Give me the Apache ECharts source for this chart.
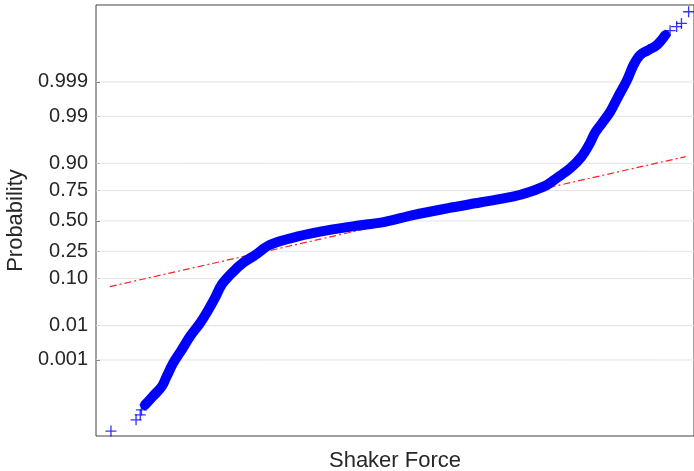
<!DOCTYPE html>
<html>
<head>
<meta charset="utf-8">
<script src="https://cdn.jsdelivr.net/npm/echarts@6/dist/echarts.min.js"></script>
<style>
  html, body { margin: 0; padding: 0; background: #fff; }
  #chart { width: 694px; height: 471px; }
</style>
</head>
<body>
<div id="chart"></div>
<script>
// normal probability plot: y values are normal quantiles of the plotting positions
const tickQuantiles = [-3.090, -2.326, -1.282, -0.674, 0, 0.674, 1.282, 2.326, 3.090];
const tickLabels = ["0.001", "0.01", "0.10", "0.25", "0.50", "0.75", "0.90", "0.99", "0.999"];

// dense part of the sample (drawn as a thick band of markers)
const bandForce = [-41.8, -40.5, -39.0, -38.2, -37.1, -35.7, -34.3, -32.6, -31.5, -30.1,
  -29.0, -27.3, -25.4, -23.4, -20.9, -16.4, -10.9, -5.4, -1.7, 3.0,
  8.7, 14.2, 19.7, 22.6, 25.4, 27.0, 29.3, 31.2, 32.6, 33.4,
  34.6, 36.0, 37.3, 38.8, 39.9, 41.0, 42.4, 43.8, 45.2];
const bandQuantile = [-4.09, -3.90, -3.68, -3.46, -3.16, -2.87, -2.57, -2.27, -2.04, -1.71,
  -1.42, -1.16, -0.93, -0.76, -0.53, -0.35, -0.20, -0.09, -0.02, 0.13,
  0.28, 0.41, 0.54, 0.65, 0.80, 0.95, 1.17, 1.43, 1.73, 1.95,
  2.17, 2.43, 2.76, 3.13, 3.47, 3.69, 3.80, 3.91, 4.13];

// sparse tails (individual markers)
const lowTailForce = [-47.5, -43.3, -42.6, -42.4, -41.8, -41.2];
const lowTailQuantile = [-4.67, -4.42, -4.31, -4.20, -4.09, -4.00];
const highTailForce = [42.4, 43.8, 45.2, 46.0, 47.1, 47.9, 49.1];
const highTailQuantile = [3.80, 3.91, 4.13, 4.23, 4.32, 4.39, 4.65];

// reference line through the quartiles
const refForce = [-47.7, 48.6];
const refQuantile = [-1.46, 1.43];

const xMin = -50, xMax = 50;
const zip = (a, b) => a.map((v, i) => [v, b[i]]);
const plusSymbol = "path://M4.4,0H5.6V4.4H10V5.6H5.6V10H4.4V5.6H0V4.4H4.4Z";
const axisColor = "#404040";
const textColor = "#262626";
const font = "Liberation Sans, Arial, Helvetica, sans-serif";

// horizontal grid lines at the probability ticks
const gridSeries = tickQuantiles.map(t => ({
  type: "line",
  z: 1,
  silent: true,
  showSymbol: false,
  data: [[xMin, t], [xMax, t]],
  lineStyle: { color: "#e3e3e3", width: 1 }
}));

const chart = echarts.init(document.getElementById("chart"));
chart.setOption({
  animation: false,
  backgroundColor: "#fff",
  grid: {
    left: 96, right: 0, top: 5, bottom: 35,
    outerBoundsMode: "none",
    containLabel: false,
    show: true, borderColor: axisColor, borderWidth: 1, backgroundColor: "transparent"
  },
  xAxis: {
    type: "value",
    min: xMin, max: xMax,
    name: "Shaker Force",
    nameLocation: "middle",
    nameGap: 14,
    nameTextStyle: { fontFamily: font, fontSize: 22, color: textColor },
    axisLine: { show: false, onZero: false },
    axisTick: { show: false },
    axisLabel: { show: false },
    splitLine: { show: false }
  },
  yAxis: {
    type: "value",
    min: -4.78, max: 4.8,
    name: "Probability",
    nameLocation: "middle",
    nameGap: 59,
    nameTextStyle: { fontFamily: font, fontSize: 22, color: textColor },
    axisLine: { show: false, onZero: false },
    axisTick: {
      show: true, inside: true, length: 4,
      customValues: tickQuantiles,
      lineStyle: { color: axisColor }
    },
    axisLabel: {
      customValues: tickQuantiles,
      margin: 8,
      fontFamily: font, fontSize: 20, color: textColor,
      formatter: v => {
        let best = 0;
        tickQuantiles.forEach((t, i) => {
          if (Math.abs(t - v) < Math.abs(tickQuantiles[best] - v)) best = i;
        });
        return tickLabels[best];
      }
    },
    splitLine: { show: false }
  },
  series: gridSeries.concat([
    {
      name: "reference",
      type: "line",
      z: 2,
      data: zip(refForce, refQuantile),
      showSymbol: false,
      silent: true,
      lineStyle: { color: "#ff2020", width: 1.2, type: [7, 3, 2, 3] }
    },
    {
      name: "band",
      type: "line",
      z: 3,
      data: zip(bandForce, bandQuantile),
      smooth: 0.35,
      showSymbol: false,
      silent: true,
      lineStyle: { color: "#0000ff", width: 10, cap: "round", join: "round" }
    },
    {
      name: "tails",
      type: "scatter",
      z: 4,
      symbol: plusSymbol,
      symbolSize: 11,
      silent: true,
      itemStyle: { color: "#0000ff" },
      data: zip(lowTailForce, lowTailQuantile).concat(zip(highTailForce, highTailQuantile))
    }
  ])
});
</script>
</body>
</html>
